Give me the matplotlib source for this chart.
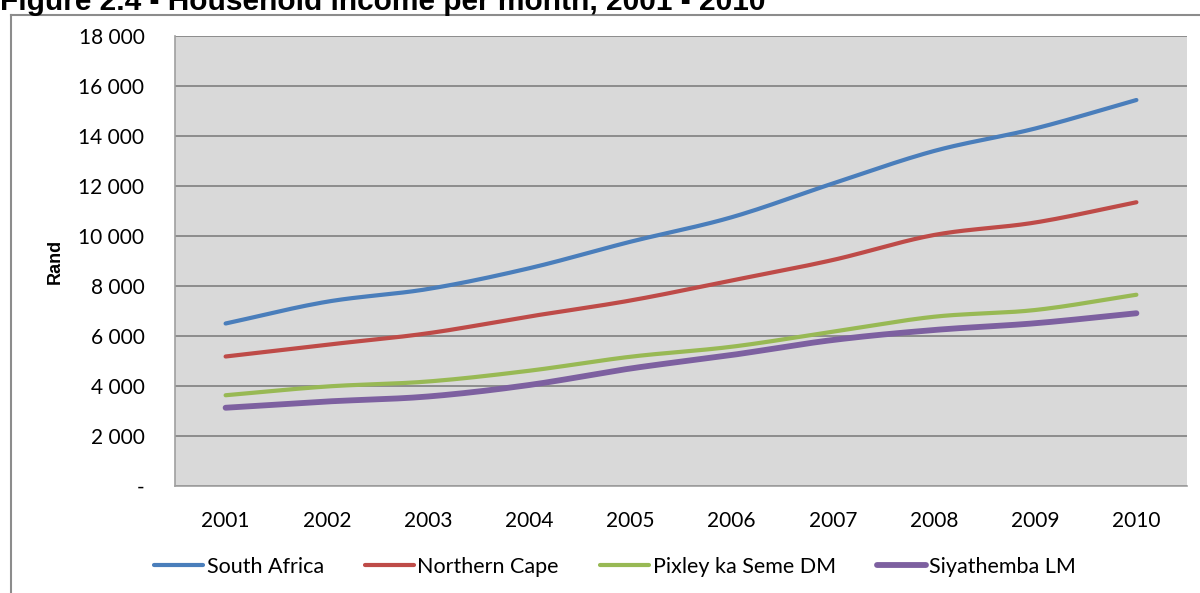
import numpy as np
import matplotlib
matplotlib.use("Agg")
import matplotlib.pyplot as plt
from matplotlib.lines import Line2D

years = ['2001', '2002', '2003', '2004', '2005', '2006', '2007', '2008', '2009', '2010']
south_africa = [6500, 7370, 7880, 8710, 9770, 10750, 12100, 13400, 14300, 15440]
northern_cape = [5180, 5650, 6110, 6780, 7420, 8220, 9040, 10040, 10540, 11350]
pixley = [3630, 3980, 4180, 4610, 5170, 5570, 6170, 6770, 7040, 7650]
siyathemba = [3130, 3380, 3580, 4040, 4700, 5240, 5840, 6240, 6510, 6910]

series = [
    ('South Africa', south_africa, '#4A7EBB', 3.0),
    ('Northern Cape', northern_cape, '#BE4B48', 3.0),
    ('Pixley ka Seme DM', pixley, '#98B954', 3.0),
    ('Siyathemba LM', siyathemba, '#7D60A0', 4.2),
]


def smooth(x, y, steps=20):
    # catmull-rom through the points, like excel's smoothed line
    x = np.asarray(x, float); y = np.asarray(y, float)
    px = np.concatenate([[2*x[0]-x[1]], x, [2*x[-1]-x[-2]]])
    py = np.concatenate([[2*y[0]-y[1]], y, [2*y[-1]-y[-2]]])
    xs, ys = [], []
    t = np.linspace(0, 1, steps, endpoint=False)
    for i in range(1, len(px)-2):
        for arr, out in ((px, xs), (py, ys)):
            p0, p1, p2, p3 = arr[i-1], arr[i], arr[i+1], arr[i+2]
            out.extend(0.5*((2*p1) + (-p0+p2)*t + (2*p0-5*p1+4*p2-p3)*t**2
                            + (-p0+3*p1-3*p2+p3)*t**3))
    xs.append(x[-1]); ys.append(y[-1])
    return xs, ys


plt.rcParams['font.family'] = ['Lato', 'DejaVu Sans']

fig = plt.figure(figsize=(12, 5.93), dpi=100)
ax = fig.add_axes([175/1200, 1-486/593, (1187-175)/1200, 450/593])
ax.set_facecolor('#D9D9D9')

xi = np.arange(len(years))
for name, vals, col, lw in series:
    sx, sy = smooth(xi, vals)
    ax.plot(sx, sy, color=col, lw=lw, solid_capstyle='round', label=name, zorder=3)

ax.set_xlim(-0.5, len(years)-0.5)
ax.set_ylim(0, 18000)
ax.set_yticks(range(0, 18001, 2000))
ax.set_yticklabels(['-'] + ['{:,}'.format(v).replace(',', ' ') for v in range(2000, 18001, 2000)])
ax.set_xticks(xi)
ax.set_xticklabels(years)
ax.tick_params(length=0, labelsize=15, colors='black')
ax.tick_params(axis='y', pad=22)
ax.tick_params(axis='x', pad=18)
ax.grid(axis='y', color='#868686', lw=1.3)
ax.set_axisbelow(True)
for s in ['top', 'right']:
    ax.spines[s].set_visible(False)
for s in ['left', 'bottom']:
    ax.spines[s].set_color('#A0A0A0')
    ax.spines[s].set_linewidth(1.2)

fig.text(55/1200, 1-261/593, 'Rand', rotation=90, ha='center', va='center',
         fontsize=13, fontweight='bold', family=['Liberation Sans', 'DejaVu Sans'])

leg = fig.legend(loc='center', bbox_to_anchor=(615/1200, 1-567/593), ncol=4,
                 frameon=False, fontsize=15.5, handlelength=2.3, handletextpad=0.15,
                 columnspacing=1.9)

# outer chart frame
fig.add_artist(Line2D([11/1200, 11/1200], [0, 1-15/593], color='#8C8C8C', lw=1.5))
fig.add_artist(Line2D([11/1200, 1], [1-15/593, 1-15/593], color='#8C8C8C', lw=1.5))

fig.text(0.0, 1-10/593, 'Figure 2.4 - Household income per month, 2001 - 2010',
         ha='left', va='baseline', fontsize=21.5, fontweight='bold',
         family=['Liberation Sans', 'DejaVu Sans'])

fig.savefig('out.png', dpi=100)
